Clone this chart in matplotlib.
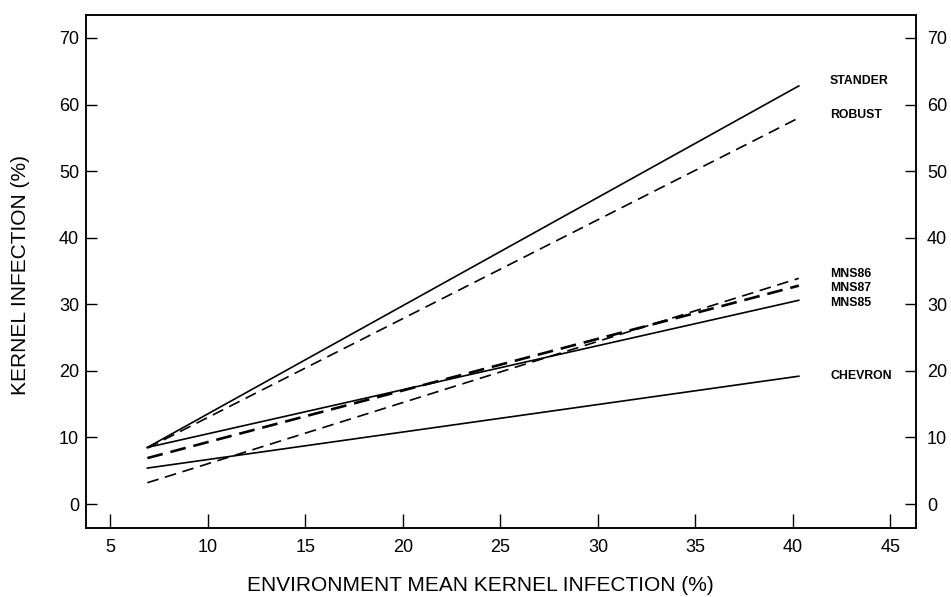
import numpy as np
import matplotlib.pyplot as plt

plt.rcParams['font.family'] = ['Liberation Sans', 'DejaVu Sans']

# environment mean range covered by each regression line
x_start = 6.9
x_end = 40.3

cultivars = ["STANDER", "ROBUST", "MNS86", "MNS87", "MNS85", "CHEVRON"]
y_start = [8.5, 8.4, 3.2, 6.9, 8.5, 5.4]
y_end = [62.8, 58.0, 33.9, 32.8, 30.6, 19.2]
styles = ["solid", "dashed", "dashed", "longdash", "solid", "solid"]
label_y = [63.6, 58.4, 34.6, 32.4, 30.2, 19.3]

xticks = [5, 10, 15, 20, 25, 30, 35, 40, 45]
yticks = [0, 10, 20, 30, 40, 50, 60, 70]

fig = plt.figure(figsize=(9.51, 5.97), dpi=100)
ax = fig.add_axes([0.0904, 0.1156, 0.8726, 0.8598])

for name, y0, y1, st in zip(cultivars, y_start, y_end, styles):
    if st == "solid":
        ax.plot([x_start, x_end], [y0, y1], color="black", lw=1.2)
    elif st == "dashed":
        ax.plot([x_start, x_end], [y0, y1], color="black", lw=1.2,
                dashes=(7, 4))
    else:
        ax.plot([x_start, x_end], [y0, y1], color="black", lw=1.9,
                dashes=(6, 3))

for name, ly in zip(cultivars, label_y):
    ax.text(41.9, ly, name, fontsize=8.8, fontweight="bold",
            va="center", ha="left")

ax.set_xlim(3.75, 46.3)
ax.set_ylim(-3.6, 73.5)
ax.set_xticks(xticks)
ax.set_yticks(yticks)

# right axis with same scale
ax2 = ax.twinx()
ax2.set_ylim(ax.get_ylim())
ax2.set_yticks(yticks)

ax.tick_params(axis="y", direction="in", length=8, width=1, labelsize=13, pad=5)
ax.tick_params(axis="x", direction="in", length=10, width=1, labelsize=13, pad=8)
ax2.tick_params(axis="y", direction="in", length=8, width=1, labelsize=13, pad=8)

for a in (ax, ax2):
    for s in a.spines.values():
        s.set_linewidth(1.1)

ax.set_ylabel("KERNEL INFECTION (%)", fontsize=15)
ax.set_xlabel("ENVIRONMENT MEAN KERNEL INFECTION (%)", fontsize=15)
ax.yaxis.set_label_coords(-0.068, 0.492)
ax.xaxis.set_label_coords(0.475, -0.094)

fig.savefig("out.png", dpi=100)
